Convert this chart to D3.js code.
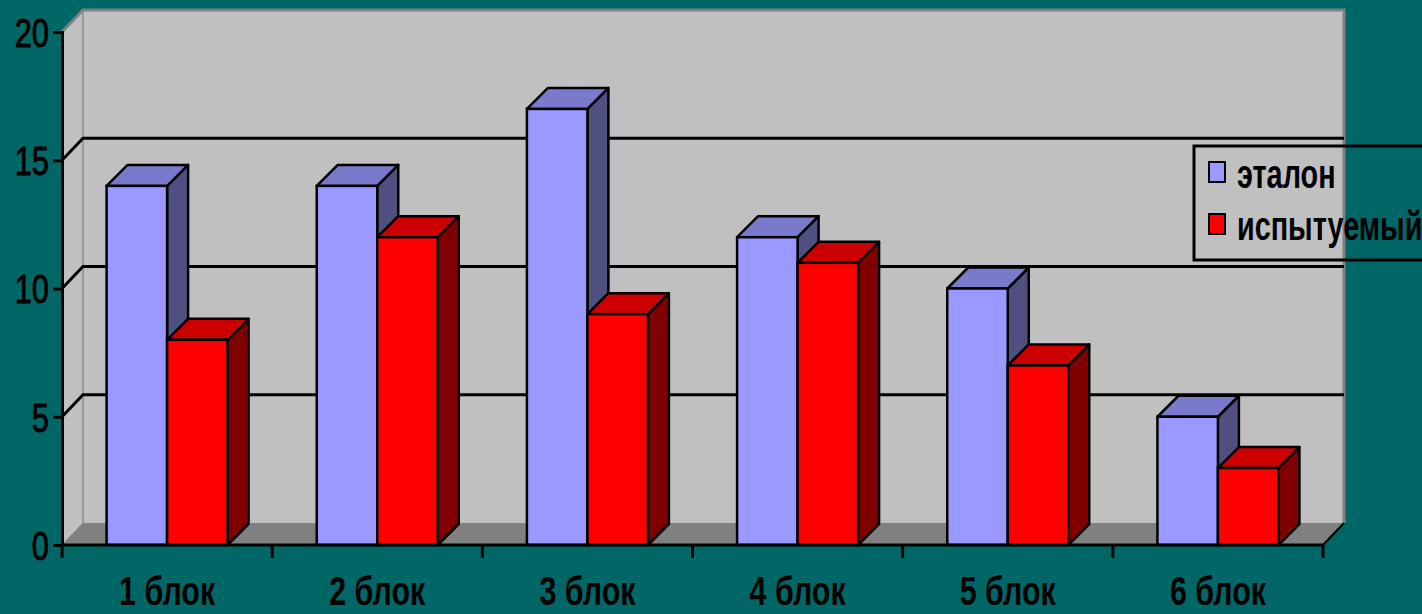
<!DOCTYPE html>
<html lang="ru">
<head>
    <meta charset="UTF-8">
    <title>блоки</title>
    <script src="https://cdn.jsdelivr.net/npm/d3@7/dist/d3.min.js"></script>
    <style>
        body { margin: 0; background: #006666; }
        svg { display: block; }
    </style>
</head>
<body>
<div class="chart"></div>
<script>
    const categories = ['1 блок', '2 блок', '3 блок', '4 блок', '5 блок', '6 блок']
    const seriesNames = ['эталон', 'испытуемый']
    const etalon = [14, 14, 17, 12, 10, 5]
    const ispyt = [8, 12, 9, 11, 7, 3]
    const yTicks = [0, 5, 10, 15, 20]

    const width = 1422
    const height = 614
    const plot = { left: 62, right: 1323, top: 32, bottom: 545 }
    const depth = { dx: 21, dy: -22 }
    const font = '"Liberation Sans", Arial, sans-serif'

    const colors = [
        { front: '#9999ff', top: '#7a7acc', side: '#4f4f80' },
        { front: '#ff0000', top: '#cc0000', side: '#800000' }
    ]

    const y = d3.scaleLinear().domain([0, 20]).range([plot.bottom, plot.top])
    const x0 = d3.scaleBand().domain(categories).range([plot.left, plot.right])
    const x1 = d3.scaleBand().domain(seriesNames).range([0, x0.bandwidth()]).paddingOuter(0.737)

    const svg = d3.select('.chart').append('svg')
        .attr('width', width)
        .attr('height', height)

    svg.append('rect').attr('width', width).attr('height', height).attr('fill', '#006666')

    // walls
    const bx = plot.left + depth.dx
    const bRight = plot.right + depth.dx
    const yb = v => y(v) + depth.dy

    svg.append('polygon')
        .attr('points', [[plot.left, y(20)], [bx, yb(20)], [bx, yb(0)], [plot.left, y(0)]].join(' '))
        .attr('fill', '#c0c0c0')
    svg.append('rect')
        .attr('x', bx).attr('y', yb(20))
        .attr('width', bRight - bx).attr('height', yb(0) - yb(20))
        .attr('fill', '#c0c0c0')
    svg.append('line')
        .attr('x1', bx).attr('x2', bx).attr('y1', yb(20)).attr('y2', yb(0))
        .attr('stroke', '#9a9a9a').attr('stroke-width', 2)
    svg.append('polyline')
        .attr('points', [[plot.left, y(20)], [bx, yb(20)], [bRight, yb(20)], [bRight, yb(0)]].join(' '))
        .attr('fill', 'none').attr('stroke', '#808080').attr('stroke-width', 3)

    // grid lines
    const grid = yTicks.filter(v => v > 0 && v < 20)
    svg.append('g').selectAll('polyline').data(grid).enter().append('polyline')
        .attr('points', d => [[plot.left, y(d)], [bx, yb(d)], [bRight, yb(d)]].join(' '))
        .attr('fill', 'none').attr('stroke', '#000').attr('stroke-width', 3)

    // floor
    svg.append('polygon')
        .attr('points', [[plot.left, y(0)], [bx, yb(0)], [bRight, yb(0)], [plot.right, y(0)]].join(' '))
        .attr('fill', '#808080')
    svg.append('line')
        .attr('x1', plot.right).attr('y1', y(0)).attr('x2', bRight).attr('y2', yb(0))
        .attr('stroke', '#000').attr('stroke-width', 2)

    // bars
    const bars = []
    categories.forEach((c, i) => {
        bars.push({ cat: c, s: 0, value: etalon[i] })
        bars.push({ cat: c, s: 1, value: ispyt[i] })
    })
    const bdx = 21, bdy = -21

    const barG = svg.append('g').selectAll('g').data(bars).enter().append('g')
    barG.each(function (d) {
        const g = d3.select(this)
        const xl = x0(d.cat) + x1(seriesNames[d.s])
        const xr = xl + x1.bandwidth()
        const yt = y(d.value)
        const yB = y(0)
        const col = colors[d.s]
        g.append('polygon')
            .attr('points', [[xr, yt], [xr + bdx, yt + bdy], [xr + bdx, yB + bdy], [xr, yB]].join(' '))
            .attr('fill', col.side).attr('stroke', '#000').attr('stroke-width', 2.5).attr('stroke-linejoin', 'round')
        g.append('polygon')
            .attr('points', [[xl, yt], [xl + bdx, yt + bdy], [xr + bdx, yt + bdy], [xr, yt]].join(' '))
            .attr('fill', col.top).attr('stroke', '#000').attr('stroke-width', 2.5).attr('stroke-linejoin', 'round')
        g.append('rect')
            .attr('x', xl).attr('y', yt)
            .attr('width', xr - xl).attr('height', yB - yt)
            .attr('fill', col.front).attr('stroke', '#000').attr('stroke-width', 2.5)
    })

    // y axis
    const yAxis = d3.axisLeft(y).tickValues(yTicks).tickSize(9).tickFormat(d3.format('d'))
    const yAx = svg.append('g')
        .attr('transform', `translate(${plot.left},0)`)
        .call(yAxis)
    yAx.select('.domain').attr('stroke', '#000').attr('stroke-width', 3)
    yAx.selectAll('.tick line').attr('stroke', '#000').attr('stroke-width', 3)
    yAx.selectAll('.tick text').remove()
    yAx.selectAll('.tick').append('g')
        .attr('transform', 'translate(-13,0) scale(0.77,1)')
        .append('text')
        .attr('text-anchor', 'end')
        .attr('dy', '0.36em')
        .attr('fill', '#000')
        .attr('stroke', '#000')
        .attr('stroke-width', 0.9)
        .style('font-family', font)
        .style('font-size', '40px')
        .text(d => d)

    // x axis
    const xAx = svg.append('g')
        .attr('transform', `translate(0,${plot.bottom})`)
        .call(d3.axisBottom(x0).tickSize(0).tickPadding(0))
    xAx.select('.domain').remove()
    xAx.append('line')
        .attr('x1', plot.left).attr('x2', plot.right)
        .attr('stroke', '#000').attr('stroke-width', 3)
    const bounds = d3.range(categories.length + 1).map(i => plot.left + i * x0.step())
    xAx.selectAll('.bound').data(bounds).enter().append('line')
        .attr('class', 'bound')
        .attr('x1', d => d).attr('x2', d => d)
        .attr('y1', 0).attr('y2', 13)
        .attr('stroke', '#000').attr('stroke-width', 3)
    xAx.selectAll('.tick text').remove()
    xAx.selectAll('.tick').append('g')
        .attr('transform', 'translate(0,60) scale(0.76,1)')
        .append('text')
        .attr('text-anchor', 'middle')
        .attr('fill', '#000')
        .style('font-family', font)
        .style('font-weight', 'bold')
        .style('font-size', '40px')
        .text(d => d)

    // legend
    const legend = svg.append('g')
    legend.append('rect')
        .attr('x', 1194).attr('y', 146)
        .attr('width', 280).attr('height', 114)
        .attr('fill', 'none').attr('stroke', '#000').attr('stroke-width', 3)
    const items = legend.selectAll('.item').data(seriesNames).enter().append('g')
        .attr('class', 'item')
        .attr('transform', (d, i) => `translate(1209,${162 + i * 52})`)
    items.append('rect')
        .attr('width', 16).attr('height', 20)
        .attr('fill', (d, i) => colors[i].front)
        .attr('stroke', '#000').attr('stroke-width', 2)
    items.append('g')
        .attr('transform', 'translate(28,26) scale(0.72,1)')
        .append('text')
        .attr('fill', '#000')
        .style('font-family', font)
        .style('font-weight', 'bold')
        .style('font-size', '40px')
        .text(d => d)
</script>
</body>
</html>
